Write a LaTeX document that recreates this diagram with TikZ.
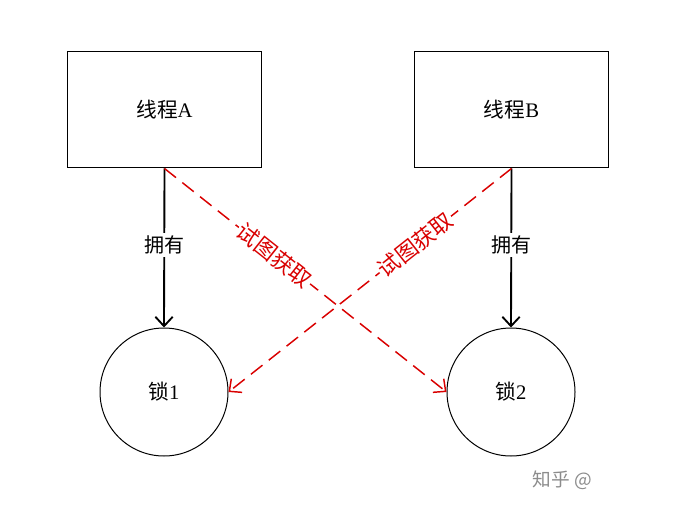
\documentclass[tikz,border=0pt]{standalone}
\usepackage{fontspec}
\setmainfont{Liberation Serif}
\newfontfamily\cjk{Noto Sans CJK SC}
\usetikzlibrary{arrows.meta}

\begin{document}
\begin{tikzpicture}[x=0.75pt,y=-0.75pt,
    thread/.style={draw,line width=0.75pt,minimum width=146pt,minimum height=87pt,inner sep=0pt,font=\fontsize{15.5}{17}\selectfont},
    lock/.style={draw,circle,line width=0.75pt,minimum size=96pt,inner sep=0pt,font=\fontsize{15.5}{17}\selectfont},
    own/.style={line width=1.4pt,-{Straight Barb[length=7pt,width=13pt]}},
    try/.style={red!85!black,line width=1.1pt,dash pattern=on 11pt off 6pt,-{Straight Barb[length=7pt,width=13pt]}},
    ownlabel/.style={fill=white,inner sep=2pt,font=\cjk\fontsize{15}{17}\selectfont},
    trylabel/.style={fill=white,inner sep=1pt,text=red!85!black,font=\cjk\fontsize{16.5}{18}\selectfont,sloped}]
    \useasboundingbox (0,0) rectangle (677,509);

    \node[thread] (tA) at (164.5,110) {{\cjk 线程}A};
    \node[thread] (tB) at (511.5,110) {{\cjk 线程}B};
    \node[lock] (l1) at (164,392) {{\cjk 锁}1};
    \node[lock] (l2) at (511,392) {{\cjk 锁}2};

    \draw[own] (tA.south) -- node[ownlabel,pos=0.48] {拥有} (l1.north);
    \draw[own] (tB.south) -- node[ownlabel,pos=0.48] {拥有} (l2.north);
    \draw[try] (tA.south) -- node[trylabel,pos=0.39] {试图获取} (l2.west);
    \draw[try] (tB.south) -- node[trylabel,pos=0.34] {试图获取} (l1.east);

    \node[text=black!45,font=\cjk\fontsize{14}{16}\selectfont,anchor=west] (wm) at (528,480) {知乎 @};
\end{tikzpicture}
\end{document}
